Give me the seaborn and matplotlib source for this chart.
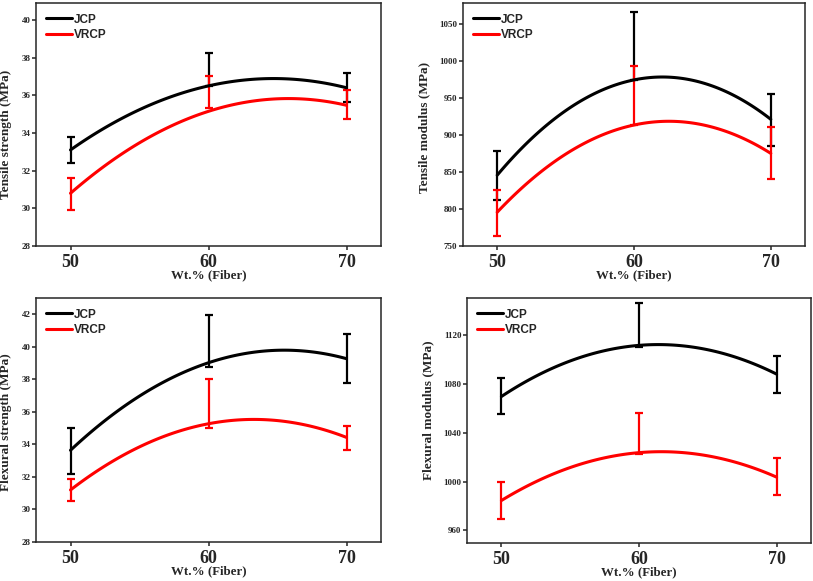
import numpy as np
import matplotlib
matplotlib.use("Agg")
import matplotlib.pyplot as plt
import seaborn as sns

# fibre content
wt = [50, 60, 70]

# tensile strength (MPa)
ts_jcp = [33.1, 36.5, 36.4]
ts_jcp_lo = [32.4, 36.5, 35.65]
ts_jcp_hi = [33.8, 38.25, 37.2]
ts_vrcp = [30.8, 35.15, 35.47]
ts_vrcp_lo = [29.9, 35.35, 34.76]
ts_vrcp_hi = [31.6, 37.0, 36.27]

# tensile modulus (MPa)
tm_jcp = [845.6, 974.2, 921.0]
tm_jcp_lo = [812.7, 974.2, 884.9]
tm_jcp_hi = [878.6, 1065.3, 954.8]
tm_vrcp = [795.6, 913.3, 875.0]
tm_vrcp_lo = [764.0, 913.3, 839.8]
tm_vrcp_hi = [826.0, 993.0, 911.0]

# flexural strength (MPa)
fs_jcp = [33.64, 39.02, 39.27]
fs_jcp_lo = [32.18, 38.76, 37.8]
fs_jcp_hi = [35.0, 41.93, 40.8]
fs_vrcp = [31.2, 35.27, 34.43]
fs_vrcp_lo = [30.5, 35.0, 33.68]
fs_vrcp_hi = [31.9, 38.0, 35.15]

# flexural modulus (MPa)
fm_jcp = [1069.8, 1111.8, 1088.2]
fm_jcp_lo = [1055.2, 1110.7, 1073.0]
fm_jcp_hi = [1085.4, 1146.3, 1103.2]
fm_vrcp = [984.4, 1023.7, 1003.6]
fm_vrcp_lo = [969.6, 1022.3, 988.8]
fm_vrcp_hi = [999.2, 1056.6, 1019.0]

sns.set_theme(style="ticks")
plt.rcParams["font.family"] = ["Liberation Serif", "DejaVu Serif"]
plt.rcParams["axes.linewidth"] = 1.1

fig = plt.figure(figsize=(8.13, 5.81), dpi=100)
W, H = 813, 581


def box(l, t, r, b):
    return [l / W, (H - b) / H, (r - l) / W, (b - t) / H]


panels = [
    dict(rect=box(36, 3, 381, 246), ylabel="Tensile strength (MPa)",
         ylim=(28, 40.9), yticks=np.arange(28, 41, 2), lab=(-0.07, 0.46),
         series=[(ts_jcp, ts_jcp_lo, ts_jcp_hi), (ts_vrcp, ts_vrcp_lo, ts_vrcp_hi)]),
    dict(rect=box(463, 3, 805, 246), ylabel="Tensile modulus (MPa)",
         ylim=(750, 1078), yticks=np.arange(750, 1051, 50), lab=(-0.095, 0.486),
         series=[(tm_jcp, tm_jcp_lo, tm_jcp_hi), (tm_vrcp, tm_vrcp_lo, tm_vrcp_hi)]),
    dict(rect=box(36, 298, 381, 542), ylabel="Flexural strength (MPa)",
         ylim=(28, 43), yticks=np.arange(28, 43, 2), lab=(-0.07, 0.493),
         series=[(fs_jcp, fs_jcp_lo, fs_jcp_hi), (fs_vrcp, fs_vrcp_lo, fs_vrcp_hi)]),
    dict(rect=box(467, 298, 811, 543), ylabel="Flexural modulus (MPa)",
         ylim=(949.5, 1150.7), yticks=np.arange(960, 1121, 40), lab=(-0.095, 0.543),
         series=[(fm_jcp, fm_jcp_lo, fm_jcp_hi), (fm_vrcp, fm_vrcp_lo, fm_vrcp_hi)]),
]

names = ["JCP", "VRCP"]
colors = ["#000000", "#ff0000"]

for p in panels:
    ax = fig.add_axes(p["rect"])
    for (mean, lo, hi), name, c in zip(p["series"], names, colors):
        lo = np.array(lo)
        hi = np.array(hi)
        ax.errorbar(wt, (lo + hi) / 2, yerr=(hi - lo) / 2, fmt="none",
                    ecolor=c, elinewidth=1.6, capsize=2.6, capthick=1.6, zorder=3)
        sns.regplot(x=wt, y=mean, order=2, ci=None, scatter=False, ax=ax,
                    color=c, label=name, line_kws={"lw": 2.2, "zorder": 4})
    ax.set_xlim(47.5, 72.5)
    ax.set_ylim(*p["ylim"])
    ax.set_xticks(wt)
    ax.set_yticks(p["yticks"])
    ax.tick_params(axis="x", labelsize=13, length=3, width=1.1, pad=2.5)
    ax.tick_params(axis="y", labelsize=6.5, length=3, width=1.1, pad=1)
    for t in ax.get_xticklabels() + ax.get_yticklabels():
        t.set_fontweight("bold")
    ax.set_xlabel("Wt.% (Fiber)", fontsize=9.3, fontweight="bold", labelpad=-1)
    ax.set_ylabel(p["ylabel"], fontsize=9.5, fontweight="bold")
    ax.yaxis.set_label_coords(*p["lab"])
    for s in ax.spines.values():
        s.set_visible(True)
    ax.legend(loc="upper left", bbox_to_anchor=(-0.002, 1.0), frameon=False,
              handlelength=2.2, handletextpad=0.15, labelspacing=0.3,
              prop={"family": "Liberation Sans", "weight": "bold", "size": 8.5})

fig.savefig("out.png", dpi=100)
